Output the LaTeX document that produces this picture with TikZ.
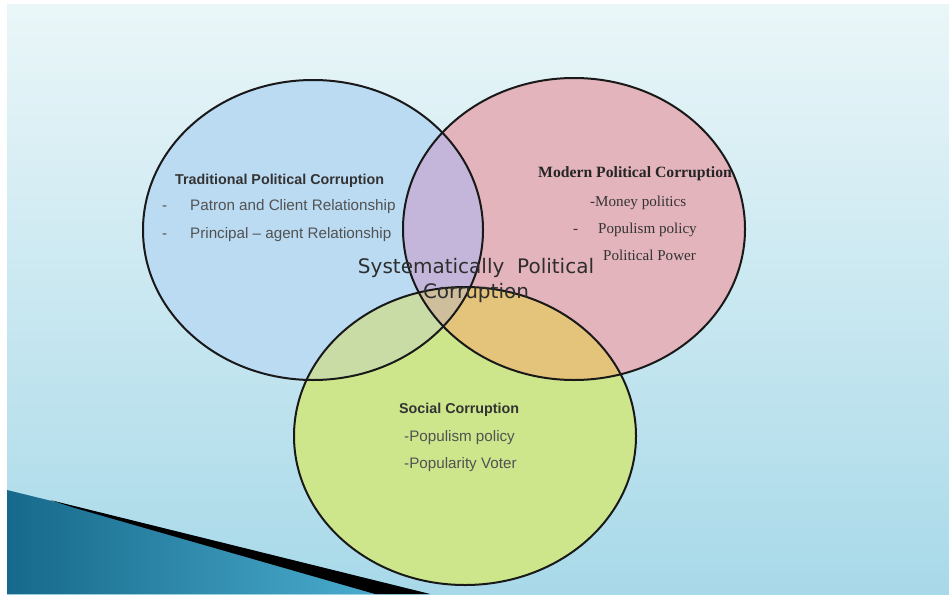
\documentclass[tikz,border=0pt]{standalone}
\usepackage{fontspec}
\setmainfont{Liberation Serif}
\setsansfont{Liberation Sans}
\newfontfamily\bigfont{DejaVu Sans}
\usetikzlibrary{calc}

\definecolor{bgtop}{HTML}{EAF6F8}
\definecolor{bgbot}{HTML}{A8D9E9}
\definecolor{tealdark}{HTML}{16698A}
\definecolor{teallight}{HTML}{52B6D8}
\definecolor{tradblue}{HTML}{BBDBF3}
\definecolor{modred}{HTML}{E3B4BC}
\definecolor{socgreen}{HTML}{CDE68C}
\definecolor{bluered}{HTML}{C3B6DA}
\definecolor{redgreen}{HTML}{E4C37A}
\definecolor{bluegreen}{HTML}{C9DCA6}
\definecolor{allthree}{HTML}{CFBE9C}
\definecolor{inktext}{HTML}{333333}

\def\tradpath{(313,230) ellipse [x radius=170pt, y radius=150pt]}
\def\modpath{(574,229) ellipse [x radius=171pt, y radius=151pt]}
\def\socpath{(465,436) ellipse [x radius=171pt, y radius=149pt]}

\tikzset{
  rim/.style={draw=black!90, line width=2pt},
  sanshead/.style={anchor=base west, inner sep=0pt, text=inktext, font=\sffamily\bfseries\fontsize{14.3}{16}\selectfont},
  sansitem/.style={anchor=base west, inner sep=0pt, text=inktext!85, font=\sffamily\fontsize{15.2}{17}\selectfont},
  serifhead/.style={anchor=base west, inner sep=0pt, text=black!85, font=\rmfamily\bfseries\fontsize{15.7}{17}\selectfont},
  serifitem/.style={anchor=base west, inner sep=0pt, text=black!80, font=\rmfamily\fontsize{15.1}{17}\selectfont},
  centretext/.style={align=center, inner sep=0pt, text=black!82, font=\bigfont\fontsize{20}{25}\selectfont}
}

\begin{document}
\begin{tikzpicture}[x=1pt, y=-1pt]
		%%%%% START %%%%%
		\useasboundingbox (0,0) rectangle (949,594);
		\fill[white] (0,0) rectangle (949,594);
		\shade[top color=bgtop, bottom color=bgbot] (7,5) rectangle (949,594);
		
		% corner wedge
		\shade[left color=tealdark, right color=teallight] (7,490) -- (430,594) -- (7,594) -- cycle;
		\fill[black] (50,500) -- (430,594) -- (375,594) -- (75,508) -- cycle;
		
		% circles
		\fill[tradblue] \tradpath;
		\fill[modred] \modpath;
		\fill[socgreen] \socpath;
		\begin{scope}
			\clip \tradpath;
			\fill[bluered] \modpath;
			\fill[bluegreen] \socpath;
		\end{scope}
		\begin{scope}
			\clip \modpath;
			\fill[redgreen] \socpath;
			\clip \tradpath;
			\fill[allthree] \socpath;
		\end{scope}
		\draw[rim] \tradpath;
		\draw[rim] \modpath;
		\draw[rim] \socpath;
		
		% traditional
		\node[sanshead] (tradtitle) at (175,184) {Traditional Political Corruption};
		\node[sansitem] (traddasha) at (162,210) {-};
		\node[sansitem] (tradpatron) at (190,210) {Patron and Client Relationship};
		\node[sansitem] (traddashb) at (162,238) {-};
		\node[sansitem] (tradagent) at (190,238) {Principal -- agent Relationship};
		
		% modern
		\node[serifhead] (modtitle) at (538,177) {Modern Political Corruption};
		\node[serifitem] (modmoney) at (590,206) {-Money politics};
		\node[serifitem] (moddash) at (573,233) {-};
		\node[serifitem] (modpopulism) at (598,233) {Populism policy};
		\node[serifitem] (modpower) at (603,260) {Political Power};
		
		% social
		\node[sanshead] (soctitle) at (399,413) {Social Corruption};
		\node[sansitem] (socpopulism) at (404,441) {-Populism policy};
		\node[sansitem] (socvoter) at (404,468) {-Popularity Voter};
		
		% middle
		\node[centretext] (system) at (476,280) {Systematically~~Political\\Corruption};
		%%%%% END %%%%%
\end{tikzpicture}
\end{document}
